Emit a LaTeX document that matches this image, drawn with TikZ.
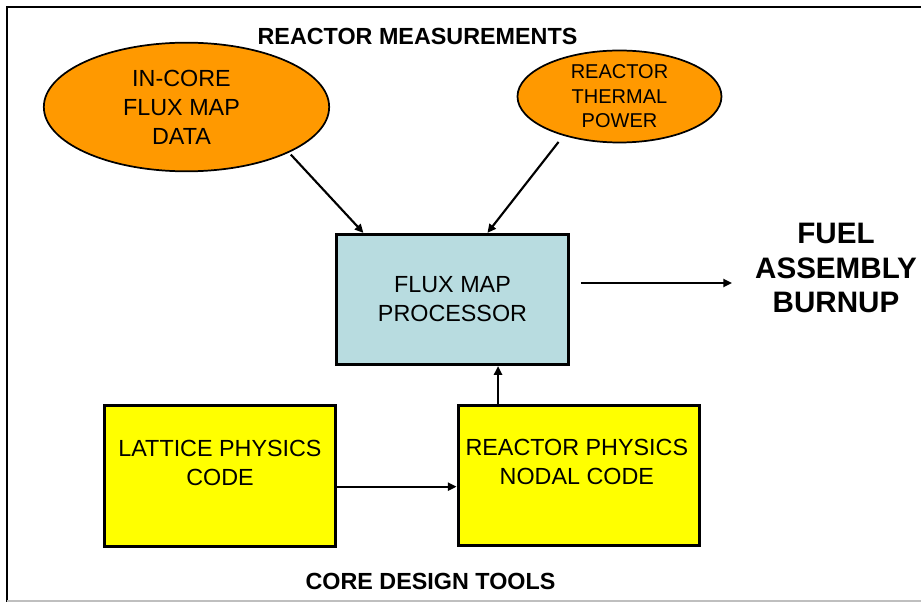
\documentclass[tikz,border=0pt]{standalone}
\usepackage{fontspec}
\setmainfont{Liberation Sans}
\usetikzlibrary{shapes.geometric,arrows.meta}
\definecolor{ovalorange}{HTML}{FF9900}
\definecolor{procblue}{HTML}{B8DCE0}
\definecolor{codeyellow}{HTML}{FFFF00}
\tikzset{
  oval/.style={ellipse, draw=black, line width=1.3pt, fill=ovalorange, inner sep=0pt},
  procbox/.style={rectangle, draw=black, line width=2.4pt, fill=procblue, inner sep=0pt},
  codebox/.style={rectangle, draw=black, line width=2.4pt, fill=codeyellow, inner sep=0pt},
  bodytext/.style={align=center, inner sep=0pt, font=\fontsize{17.5}{21.75}\selectfont},
  smalltext/.style={align=center, inner sep=0pt, font=\fontsize{15}{18.4}\selectfont},
  headtext/.style={align=center, inner sep=0pt, font=\bfseries\fontsize{17.5}{21}\selectfont},
  bigtext/.style={align=center, inner sep=0pt, font=\bfseries\fontsize{22.2}{25.9}\selectfont},
  arr/.style={line width=1.6pt, -{Triangle[length=6.5pt,width=6pt]}}
}
\begin{document}
\begin{tikzpicture}[x=0.75pt,y=-0.75pt]
\useasboundingbox (0,0) rectangle (921,602);
% frame
\draw[line width=1.3pt] (7,602) -- (7,7) -- (921,7);
\draw[line width=1pt, black!25] (7,601) -- (921,601);

% ovals
\node[oval, minimum width=214pt, minimum height=96.5pt] (incore) at (186.5,107) {};
\node[bodytext] (incoretxt) at ([xshift=-3.75pt]incore.center) {IN-CORE\\FLUX MAP\\DATA};
\node[oval, minimum width=153pt, minimum height=69pt] (thermal) at (619.5,96.5) {};
\node[smalltext] (thermaltxt) at (thermal.center) {REACTOR\\THERMAL\\POWER};

% boxes
\node[procbox, minimum width=174pt, minimum height=97.5pt] (flux) at (452.5,299.5) {};
\node[bodytext] (fluxtxt) at (flux.center) {FLUX MAP\\PROCESSOR};
\node[codebox, minimum width=173.7pt, minimum height=105.3pt] (lat) at (220,476) {};
\node[bodytext] (lattxt) at ([yshift=10pt]lat.center) {LATTICE PHYSICS\\CODE};
\node[codebox, minimum width=181pt, minimum height=105pt] (rp) at (578.85,475.5) {};
\node[bodytext] (rptxt) at ([yshift=10pt, xshift=-1.5pt]rp.center) {REACTOR PHYSICS\\NODAL CODE};

% labels
\node[headtext] (meas) at (417.5,36) {REACTOR MEASUREMENTS};
\node[headtext] (tools) at (430.5,581.5) {CORE DESIGN TOOLS};
\node[bigtext] (burnup) at (836,268) {FUEL\\ASSEMBLY\\BURNUP};

% connectors
\draw[arr, shorten <=2pt] (incore.-24) -- ([xshift=21.4pt]flux.north west);
\draw[arr, shorten <=5.9pt] (thermal.215) -- ([xshift=114.4pt]flux.north west);
\coordinate (bt) at (732,283);
\draw[arr] ([xshift=8pt]flux.east |- bt) -- (bt);
\draw[arr] ([xshift=-60.6pt]rp.north) -- ([xshift=-60.6pt]rp.north |- flux.south);
\draw[arr] ([yshift=-8pt]lat.east) -- ([yshift=-8pt]lat.east -| rp.west);
\end{tikzpicture}
\end{document}
